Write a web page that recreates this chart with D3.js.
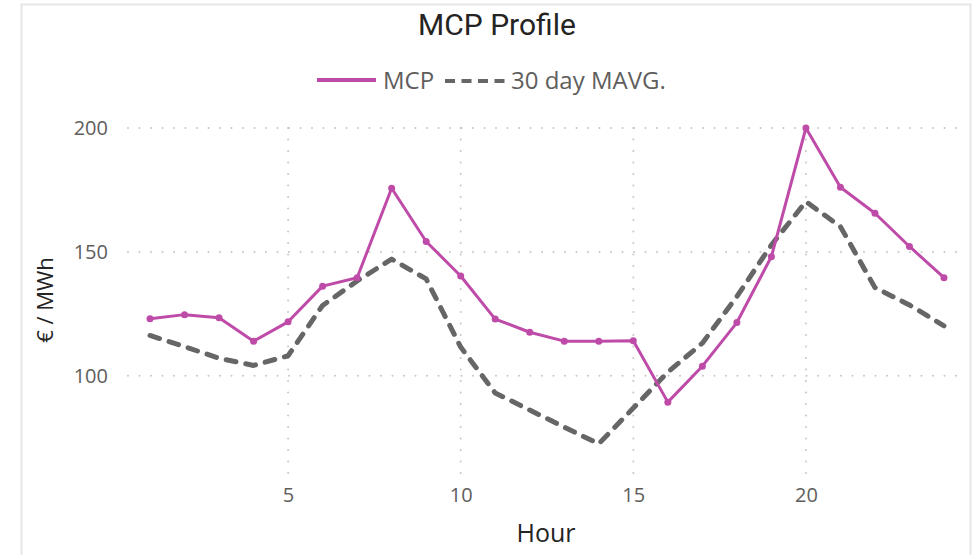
<!DOCTYPE html>
<html>
<head>
<meta charset="utf-8">
<script src="https://cdn.jsdelivr.net/npm/d3@7"></script>
<style>
  body { margin: 0; background: #fff; }
  svg { display: block; }
</style>
</head>
<body>
<svg id="chart" width="978" height="555"></svg>
<script>
const hours = d3.range(1, 25);
const mcp = [123, 124.7, 123.4, 114, 121.8, 136.2, 139.6, 175.7, 154.2, 140.3, 122.9, 117.6,
  114, 114, 114.2, 89.4, 103.9, 121.5, 148.1, 200, 176.1, 165.6, 152.2, 139.6];
const mavg = [116.3, 111.8, 107.1, 104.2, 108.1, 128.4, 138.3, 147.1, 139.1, 111.6, 93.1, 86.2,
  79.3, 72.6, 87, 101.5, 113.2, 132, 152.8, 170.3, 160.2, 135.6, 128.6, 120.2];
const xTicks = [5, 10, 15, 20];
const yTicks = [100, 150, 200];

const svg = d3.select('#chart');
const font = '"Open Sans", "Noto Sans", sans-serif';

// card border
svg.append('rect')
  .attr('x', 21.5).attr('y', 4.5)
  .attr('width', 949).attr('height', 600)
  .attr('fill', 'none')
  .attr('stroke', '#E6E6E6')
  .attr('stroke-width', 2);

const x = d3.scaleLinear().domain([1, 24]).range([150, 944]);
const y = d3.scaleLinear().domain([60, 200]).range([475, 128]);
const plotLeft = 128, plotRight = 960;

// grid
svg.append('g').selectAll('line')
  .data(yTicks)
  .join('line')
  .attr('x1', plotLeft).attr('x2', plotRight)
  .attr('y1', (d) => y(d)).attr('y2', (d) => y(d))
  .attr('stroke', '#C8C6C4')
  .attr('stroke-width', 2)
  .attr('stroke-linecap', 'round')
  .attr('stroke-dasharray', '0 11.5');

svg.append('g').selectAll('line')
  .data(xTicks)
  .join('line')
  .attr('x1', (d) => x(d)).attr('x2', (d) => x(d))
  .attr('y1', y(200)).attr('y2', y(60))
  .attr('stroke', '#C8C6C4')
  .attr('stroke-width', 2)
  .attr('stroke-linecap', 'round')
  .attr('stroke-dasharray', '0 11.5');

// axes (labels only)
const xAxis = svg.append('g')
  .attr('transform', `translate(0,${y(60)})`)
  .call(d3.axisBottom(x).tickValues(xTicks).tickSize(0).tickPadding(13));
const yAxis = svg.append('g')
  .attr('transform', `translate(${plotLeft - 18},0)`)
  .call(d3.axisLeft(y).tickValues(yTicks).tickSize(0).tickPadding(2));
[xAxis, yAxis].forEach((a) => {
  a.select('.domain').remove();
  a.selectAll('text')
    .attr('fill', '#605E5C')
    .style('font-family', font)
    .style('font-size', '20px');
});

// series
const line = d3.line()
  .x((d, i) => x(hours[i]))
  .y((d) => y(d));

svg.append('path')
  .datum(mavg)
  .attr('fill', 'none')
  .attr('stroke', '#666666')
  .attr('stroke-width', 5)
  .attr('stroke-linecap', 'round')
  .attr('stroke-linejoin', 'round')
  .attr('stroke-dasharray', '10 10')
  .attr('d', line);

svg.append('path')
  .datum(mcp)
  .attr('fill', 'none')
  .attr('stroke', '#BF4BA9')
  .attr('stroke-width', 3)
  .attr('stroke-linejoin', 'round')
  .attr('d', line);

svg.append('g').selectAll('circle')
  .data(mcp)
  .join('circle')
  .attr('cx', (d, i) => x(hours[i]))
  .attr('cy', (d) => y(d))
  .attr('r', 3.5)
  .attr('fill', '#BF4BA9');

// title
svg.append('text')
  .attr('x', 497).attr('y', 35)
  .attr('text-anchor', 'middle')
  .attr('fill', '#252423')
  .style('font-family', 'Roboto, sans-serif')
  .style('font-size', '30px')
  .text('MCP Profile');

// legend
const lg = svg.append('g');
lg.append('line')
  .attr('x1', 317).attr('x2', 376).attr('y1', 80).attr('y2', 80)
  .attr('stroke', '#BF4BA9').attr('stroke-width', 4);
lg.append('text')
  .attr('x', 383).attr('y', 89)
  .attr('fill', '#605E5C')
  .style('font-family', font).style('font-size', '24px')
  .text('MCP');
lg.append('line')
  .attr('x1', 445).attr('x2', 508).attr('y1', 81).attr('y2', 81)
  .attr('stroke', '#666666').attr('stroke-width', 4)
  .attr('stroke-dasharray', '10 6.5');
lg.append('text')
  .attr('x', 511).attr('y', 89)
  .attr('fill', '#605E5C')
  .style('font-family', font).style('font-size', '24px')
  .text('30 day MAVG.');

// axis titles
svg.append('text')
  .attr('x', 546).attr('y', 542)
  .attr('text-anchor', 'middle')
  .attr('fill', '#252423')
  .style('font-family', font).style('font-size', '25px')
  .text('Hour');

svg.append('text')
  .attr('transform', 'translate(53,300) rotate(-90)')
  .attr('text-anchor', 'middle')
  .attr('fill', '#252423')
  .style('font-family', font).style('font-size', '22px')
  .text('€ / MWh');
</script>
</body>
</html>
